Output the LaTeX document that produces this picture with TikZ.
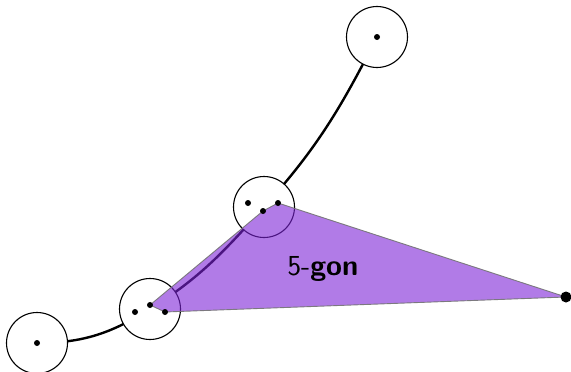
\documentclass[tikz,border=0pt]{standalone}
\begin{document}
\definecolor{polyfill}{RGB}{125,35,215}
\tikzset{
  x=1pt, y=-1pt,
  ring/.style={circle, draw=black, fill=white, line width=1.1pt, minimum size=61pt, inner sep=0pt},
  pt/.style={circle, fill=black, minimum size=6pt, inner sep=0pt},
  bigpt/.style={circle, fill=black, minimum size=11pt, inner sep=0pt},
  curve/.style={line width=2.4pt, black},
  poly/.style={fill=polyfill, fill opacity=0.6, draw=black!55, draw opacity=0.9, line width=0.9pt},
}
\begin{tikzpicture}
\useasboundingbox (0,0) rectangle (571,372);
% circle centres
\coordinate (c1) at (37,343);
\coordinate (c2) at (150,309);
\coordinate (c3) at (264,207);
\coordinate (c4) at (377,37);
% curve through the centres
\draw[curve] (c1) to[out=0,in=212] (c2) to[out=32,in=228] (c3) to[out=48,in=243] (c4);
% rings
\node[ring] (r1) at (c1) {};
\node[ring] (r2) at (c2) {};
\node[ring] (r3) at (c3) {};
\node[ring] (r4) at (c4) {};
% points
\coordinate (p1) at (135,312);
\coordinate (p2) at (150,305);
\coordinate (p3) at (165,312);
\coordinate (p4) at (248,203);
\coordinate (p5) at (263,211);
\coordinate (p6) at (278,203);
\coordinate (p7) at (566,297);
% polygon
\filldraw[poly] (p2) -- (p5) -- (p6) -- (p7) -- (p3) -- cycle;
% dots
\node[pt] (d0) at (c1) {};
\node[pt] (d1) at (p1) {};
\node[pt] (d2) at (p2) {};
\node[pt] (d3) at (p3) {};
\node[pt] (d4) at (p4) {};
\node[pt] (d5) at (p5) {};
\node[pt] (d6) at (p6) {};
\node[pt] (d8) at (c4) {};
\node[bigpt] (d7) at (p7) {};
% label
\node[anchor=base, inner sep=0pt, font=\sffamily\fontsize{29}{34}\selectfont] (lab) at (323,275) {5-\textbf{gon}};
\end{tikzpicture}
\end{document}
